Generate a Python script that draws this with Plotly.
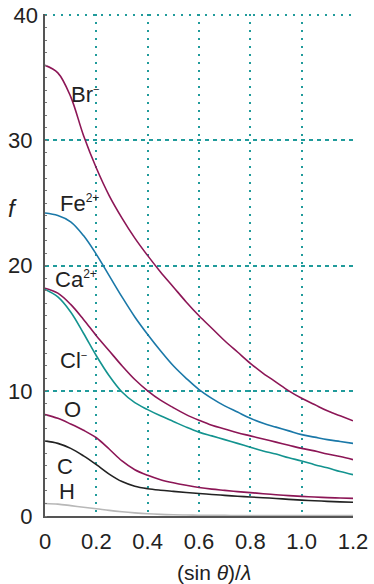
import plotly.graph_objects as go

# sin(theta)/lambda sample positions
X = [0, 0.05, 0.1, 0.15, 0.2, 0.25, 0.3, 0.35, 0.4, 0.45, 0.5, 0.55,
     0.6, 0.65, 0.7, 0.75, 0.8, 0.85, 0.9, 0.95, 1.0, 1.05, 1.1, 1.15, 1.2]

# scattering factors f
f_Br = [36.0, 35.4, 33.5, 30.4, 27.8, 25.6, 23.8, 22.2, 20.8, 19.5, 18.3, 17.1,
        16.0, 15.0, 14.0, 13.1, 12.2, 11.4, 10.7, 10.0, 9.4, 8.9, 8.4, 8.0, 7.6]
f_Fe = [24.2, 24.0, 23.5, 22.4, 20.9, 19.2, 17.5, 15.9, 14.5, 13.2, 12.0, 11.0,
        10.1, 9.4, 8.8, 8.3, 7.8, 7.4, 7.1, 6.8, 6.5, 6.3, 6.1, 5.95, 5.8]
f_Ca = [18.2, 17.8, 16.9, 15.7, 14.4, 13.2, 12.0, 10.9, 10.0, 9.25, 8.65, 8.1,
        7.65, 7.25, 6.95, 6.65, 6.4, 6.15, 5.9, 5.65, 5.4, 5.2, 4.95, 4.75, 4.5]
f_Cl = [18.1, 17.5, 16.3, 14.6, 12.8, 11.2, 9.9, 9.05, 8.5, 8.0, 7.55, 7.1,
        6.7, 6.4, 6.1, 5.8, 5.5, 5.2, 4.95, 4.65, 4.4, 4.1, 3.85, 3.55, 3.3]
f_O = [8.1, 7.8, 7.35, 6.85, 6.25, 5.35, 4.4, 3.7, 3.25, 2.9, 2.65, 2.45,
       2.28, 2.15, 2.05, 1.95, 1.87, 1.78, 1.7, 1.63, 1.57, 1.52, 1.47, 1.44, 1.41]
f_C = [6.0, 5.8, 5.4, 4.8, 4.1, 3.35, 2.75, 2.38, 2.18, 2.06, 1.97, 1.88,
       1.8, 1.72, 1.65, 1.58, 1.52, 1.46, 1.4, 1.33, 1.27, 1.22, 1.17, 1.13, 1.1]
f_H = [1.0, 0.95, 0.83, 0.7, 0.58, 0.45, 0.34, 0.25, 0.18, 0.13, 0.1, 0.08,
       0.06, 0.05, 0.05, 0.04, 0.04, 0.04, 0.04, 0.04, 0.04, 0.04, 0.04, 0.04, 0.04]

series = [
    ("Br", f_Br, "#8c1656"),
    ("Fe", f_Fe, "#1a78a8"),
    ("Ca", f_Ca, "#8c1656"),
    ("Cl", f_Cl, "#13938f"),
    ("O", f_O, "#8c1656"),
    ("C", f_C, "#222222"),
    ("H", f_H, "#b8b8b8"),
]

# labels: (text, x, y)
labels = [
    ("Br<sup><span style='font-size:11px'>−</span></sup>", 0.093, 33.7),
    ("Fe<sup><span style='font-size:12px'>2+</span></sup>", 0.051, 25.0),
    ("Ca<sup><span style='font-size:12px'>2+</span></sup>", 0.031, 18.9),
    ("Cl<sup><span style='font-size:11px'>−</span></sup>", 0.051, 12.4),
    ("O", 0.066, 8.5),
    ("C", 0.039, 3.97),
    ("H", 0.047, 1.97),
]

x_ticks = [0, 0.2, 0.4, 0.6, 0.8, 1.0, 1.2]
x_ticktext = ["0", "0.2", "0.4", "0.6", "0.8", "1.0", "1.2"]
y_ticks = [0, 10, 20, 30]
y_top = [40]
Y_RANGE = [0, 40.1]

GRID = "#209b9b"
FONT = "Liberation Sans, Arial, sans-serif"

fig = go.Figure()
for name, vals, col in series:
    fig.add_trace(go.Scatter(x=X, y=vals, mode="lines", name=name,
                             line=dict(color=col, width=1.6, shape="spline", smoothing=1.0),
                             cliponaxis=False, showlegend=False))
# trace on second y axis (no points) so the axis renders
fig.add_trace(go.Scatter(x=[None], y=[None], yaxis="y2", showlegend=False))

for txt, lx, ly in labels:
    fig.add_annotation(x=lx, y=ly, text=txt, showarrow=False, xanchor="left",
                       yanchor="middle", font=dict(size=22, color="#222", family=FONT))

fig.add_annotation(xref="paper", yref="paper", x=-0.107, y=0.613, text="<i>f</i>",
                   xanchor="center", yanchor="middle",
                   showarrow=False, font=dict(size=24, color="#222", family=FONT))
fig.add_annotation(xref="paper", yref="paper", x=0.549, y=-0.112,
                   xanchor="center", yanchor="middle",
                   text="(sin <i>θ</i>)/<i>λ</i>", showarrow=False,
                   font=dict(size=21, color="#222", family=FONT))

fig.update_layout(
    width=374, height=584,
    margin=dict(l=45, r=21, t=13.7, b=68, autoexpand=False),
    paper_bgcolor="white", plot_bgcolor="white",
    font=dict(family=FONT, color="#222"),
    xaxis=dict(range=[0, 1.2], tickvals=x_ticks, ticktext=x_ticktext,
               showgrid=True, gridcolor=GRID, gridwidth=1.5, griddash="2px,6px",
               showline=True, linecolor="#555", linewidth=2, ticks="",
               tickfont=dict(size=22, color="#222"), ticklabelstandoff=5,
               zeroline=False, automargin=False),
    yaxis=dict(range=Y_RANGE, tickvals=y_ticks,
               showgrid=True, gridcolor=GRID, gridwidth=1.5, griddash="4px,4px",
               showline=True, linecolor="#555", linewidth=2, ticks="",
               tickfont=dict(size=22, color="#222"), ticklabelstandoff=6,
               zeroline=False, automargin=False,
               minor=dict(dtick=1, ticks="inside", ticklen=2, tickcolor="#777", showgrid=False)),
    yaxis2=dict(range=Y_RANGE, overlaying="y", side="left", tickvals=y_top,
                showgrid=True, gridcolor=GRID, gridwidth=1.5, griddash="2px,6px",
                showline=False, ticks="", tickfont=dict(size=22, color="#222"),
                ticklabelstandoff=6, zeroline=False, automargin=False),
)

fig.write_html("out.html", config={"displayModeBar": False},
               post_script="document.body.style.margin='0';")
